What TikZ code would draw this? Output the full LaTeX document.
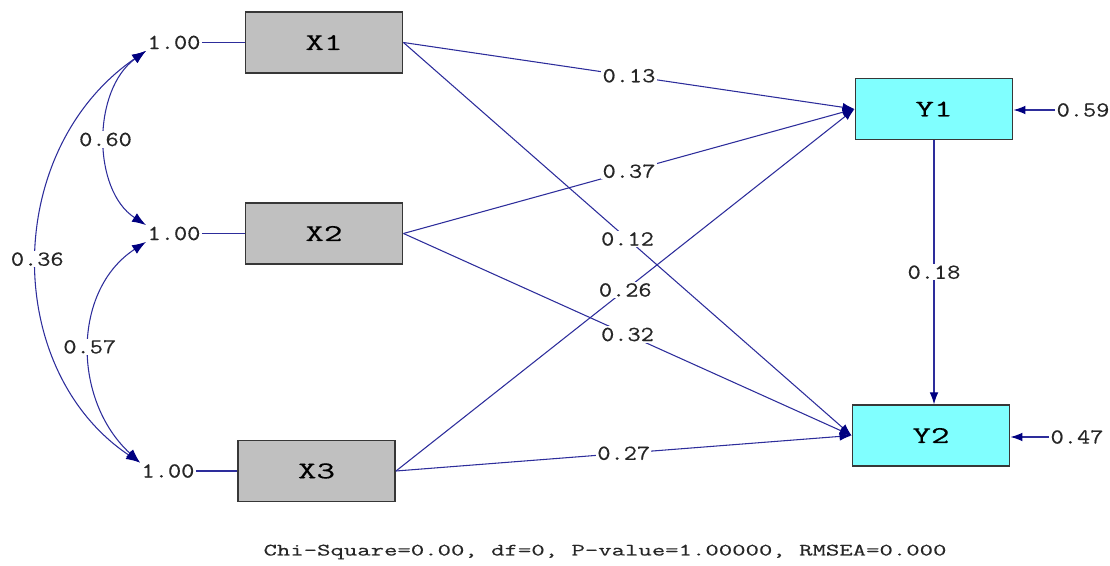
\documentclass[tikz,border=0pt]{standalone}
\usepackage{fontspec}
\usetikzlibrary{arrows.meta,calc}
\newfontfamily\numfont[FakeStretch=1.2,FakeBold=0.4]{Latin Modern Mono}
\newfontfamily\boxfont[FakeStretch=1.5,FakeBold=0.5]{Latin Modern Mono}
\newfontfamily\chifont[FakeStretch=1.5,FakeBold=0.4]{Latin Modern Mono}
\definecolor{edgecol}{RGB}{45,45,155}
\definecolor{tipcol}{RGB}{0,0,128}
\definecolor{obsgray}{RGB}{192,192,192}
\definecolor{latcyan}{RGB}{128,255,255}
\definecolor{bordercol}{RGB}{55,55,55}
\tikzset{
  xbox/.style={draw=bordercol, line width=1.2pt, fill=obsgray, minimum width=118pt, minimum height=45.5pt, inner sep=0pt, font=\boxfont\fontsize{18}{20}\selectfont},
  ybox/.style={xbox, fill=latcyan},
  num/.style={font=\numfont\fontsize{16}{18}\selectfont, text=black!85, inner sep=1pt},
  lbl/.style={num, fill=white},
  conn/.style={draw=edgecol, line width=0.8pt},
  arr/.style={conn, -{Latex[length=9pt,width=6.5pt,color=tipcol]}},
  darr/.style={conn, {Latex[length=10.5pt,width=7.5pt,color=tipcol]}-{Latex[length=10.5pt,width=7.5pt,color=tipcol]}}
}
\begin{document}
\begin{tikzpicture}[x=0.75pt,y=-0.75pt]
\useasboundingbox (0,0) rectangle (1110,566);
% observed boxes
\node[xbox] (X1) at (324,42.5) {X1};
\node[xbox] (X2) at (324,233.5) {X2};
\node[xbox] (X3) at (316.5,471) {X3};
\node[ybox] (Y1) at (934,109) {Y1};
\node[ybox] (Y2) at (931,435.5) {Y2};
% variances
\node[num] (v1) at (174,42.5) {1.00};
\node[num] (v2) at (174,233.5) {1.00};
\node[num] (v3) at (168,471) {1.00};
\draw[conn] (v1.east) -- (X1.west);
\draw[conn] (v2.east) -- (X2.west);
\draw[conn] (v3.east) -- (X3.west);
% covariances
\draw[darr] (v1.south west) .. controls (92,90) and (92,190) .. node[lbl,pos=0.5] {0.60} (v2.north west);
\draw[darr] (v2.south west) .. controls (72,290) and (72,400) .. node[lbl,pos=0.5] {0.57} (v3.north west);
\draw[darr] (v1.south west) .. controls (2,150) and (2,370) .. node[lbl,pos=0.5] {0.36} (v3.north west);
% structural paths
\draw[arr] (X1.east) -- node[lbl] {0.13} (Y1.west);
\draw[arr] (X2.east) -- node[lbl] {0.37} (Y1.west);
\draw[arr] (X3.east) -- node[lbl] {0.26} (Y1.west);
\draw[arr] (X1.east) -- node[lbl] {0.12} (Y2.west);
\draw[arr] (X2.east) -- node[lbl] {0.32} (Y2.west);
\draw[arr] (X3.east) -- node[lbl] {0.27} (Y2.west);
\draw[arr] (Y1.south) -- node[lbl] {0.18} (Y1.south |- Y2.north);
% errors
\node[num] (e1) at (1083,110) {0.59};
\node[num] (e2) at (1077,437) {0.47};
\draw[arr] (e1.west) -- (Y1.east |- e1.west);
\draw[arr] (e2.west) -- (Y2.east |- e2.west);
% fit
\node[font=\chifont\fontsize{13}{15}\selectfont, text=black!85] (fit) at (605,552) {Chi-Square=0.00, df=0, P-value=1.00000, RMSEA=0.000};
\end{tikzpicture}
\end{document}
